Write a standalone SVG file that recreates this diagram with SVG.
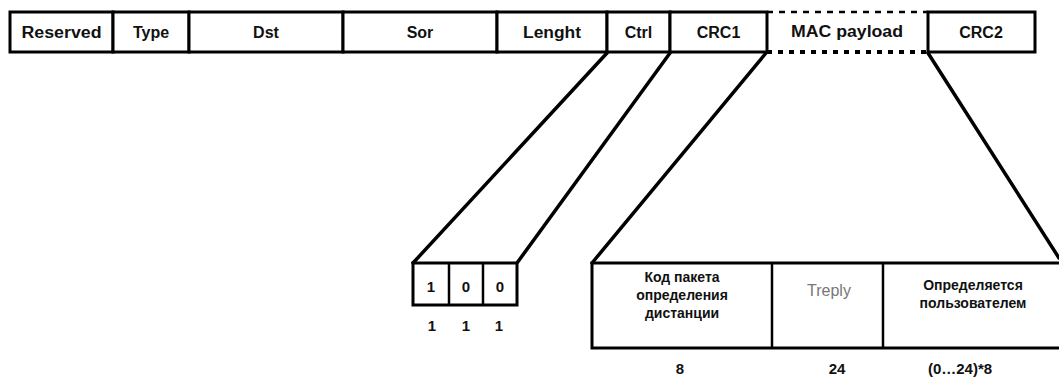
<svg xmlns="http://www.w3.org/2000/svg" width="1059" height="384" viewBox="0 0 1059 384">
<style>
.box{fill:#fff;stroke:#000;stroke-width:3}
.div{stroke:#000;stroke-width:2.5;fill:none}
.ln{stroke:#000;stroke-width:3.5;fill:none;stroke-linecap:round}
.t{font-family:"Liberation Sans",Arial,sans-serif;font-weight:bold;fill:#111;text-anchor:middle;dominant-baseline:central}
.top{font-size:16px}
.sm{font-size:14px}
.num{font-size:15px}
.g{font-family:"Liberation Sans",Arial,sans-serif;font-weight:normal;fill:#777;font-size:16px;text-anchor:middle;dominant-baseline:central}
</style>
<rect width="1059" height="384" fill="#fff"/>
<g id="frame">
  <g id="reserved"><rect class="box" x="10" y="12" width="103" height="40"/><text class="t top" x="61.5" y="32" textLength="80" lengthAdjust="spacingAndGlyphs">Reserved</text></g>
  <g id="type"><rect class="box" x="113" y="12" width="76" height="40"/><text class="t top" x="151" y="32">Type</text></g>
  <g id="dst"><rect class="box" x="189" y="12" width="154" height="40"/><text class="t top" x="266" y="32">Dst</text></g>
  <g id="sor"><rect class="box" x="343" y="12" width="154" height="40"/><text class="t top" x="420" y="32">Sor</text></g>
  <g id="lenght"><rect class="box" x="497" y="12" width="110" height="40"/><text class="t top" x="552" y="32" textLength="58" lengthAdjust="spacingAndGlyphs">Lenght</text></g>
  <g id="ctrl"><rect class="box" x="607" y="12" width="63" height="40"/><text class="t top" x="638.5" y="32">Ctrl</text></g>
  <g id="crc1"><rect class="box" x="670" y="12" width="97" height="40"/><text class="t top" x="718.5" y="32">CRC1</text></g>
  <g id="mac">
    <line x1="767" y1="12" x2="928" y2="12" stroke="#000" stroke-width="2.5" stroke-dasharray="6,6"/>
    <line x1="767" y1="52" x2="928" y2="52" stroke="#000" stroke-width="4" stroke-dasharray="5,6"/>
    <text class="t top" x="847" y="31" textLength="112" lengthAdjust="spacingAndGlyphs">MAC payload</text>
  </g>
  <g id="crc2"><rect class="box" x="928" y="12" width="107" height="40"/><text class="t top" x="981" y="32">CRC2</text></g>
</g>
<g id="connectors">
  <line class="ln" x1="607" y1="53" x2="413" y2="263"/>
  <line class="ln" x1="670" y1="53" x2="517" y2="263"/>
  <line class="ln" x1="766" y1="53" x2="592" y2="263"/>
  <line class="ln" x1="928" y1="53" x2="1059" y2="258"/>
</g>
<g id="ctrl-bits">
  <rect class="box" x="413" y="263" width="104" height="42"/>
  <line class="div" x1="449" y1="263" x2="449" y2="305"/>
  <line class="div" x1="483" y1="263" x2="483" y2="305"/>
  <text class="t num" x="431" y="286">1</text>
  <text class="t num" x="466" y="286">0</text>
  <text class="t num" x="500" y="286">0</text>
  <text class="t num" x="432" y="325">1</text>
  <text class="t num" x="466" y="325">1</text>
  <text class="t num" x="499" y="325">1</text>
</g>
<g id="payload">
  <rect class="box" x="592" y="263" width="470" height="85"/>
  <line class="div" x1="772" y1="263" x2="772" y2="348"/>
  <line class="div" x1="883" y1="263" x2="883" y2="348"/>
  <text class="t sm" x="682" y="277">Код пакета</text>
  <text class="t sm" x="682" y="295">определения</text>
  <text class="t sm" x="682" y="313">дистанции</text>
  <text class="g" x="829" y="290">Treply</text>
  <text class="t sm" x="973" y="285">Определяется</text>
  <text class="t sm" x="973" y="303">пользователем</text>
  <text class="t num" x="680" y="368">8</text>
  <text class="t num" x="837" y="368">24</text>
  <text class="t num" x="960" y="368">(0…24)*8</text>
</g>
</svg>
